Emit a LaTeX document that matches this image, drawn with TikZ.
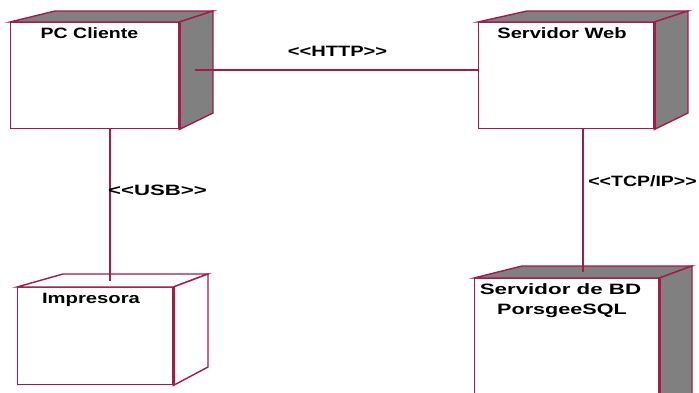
\documentclass[tikz,border=0pt]{standalone}
\usepackage{graphicx}
\usepackage{fontspec}
\setmainfont{Liberation Sans}
\usetikzlibrary{calc}
\definecolor{edgecol}{RGB}{165,25,75}
\definecolor{sidegray}{RGB}{128,128,128}
\newcommand\myxs[2]{\scalebox{#1}[1]{#2}}
\tikzset{
 frontface/.style={draw=edgecol, line width=1.4pt, fill=white, rectangle, inner sep=0pt, anchor=north west},
 graysurf/.style={draw=edgecol, line width=1.4pt, fill=sidegray, line join=miter},
 whitesurf/.style={draw=edgecol, line width=1.4pt, fill=white, line join=miter},
 thickedge/.style={draw=edgecol, line width=3pt},
 title/.style={font=\fontsize{15}{20}\selectfont\bfseries, inner sep=0pt, anchor=base},
 conn/.style={draw=edgecol, line width=1.3pt},
}
\begin{document}
\begin{tikzpicture}[x=1pt,y=-1pt]
\useasboundingbox (0,0) rectangle (699,392);
\clip (0,0) rectangle (699,392);

% PC Cliente
\node[frontface, minimum width=168pt, minimum height=106pt] (pc) at (10,22) {};
\draw[graysurf] (pc.north west) -- (55,11) -- (213,11) -- (pc.north east) -- cycle;
\draw[graysurf] (pc.north east) -- (213,11) -- (213,113) -- (pc.south east) -- cycle;
\draw[thickedge] (pc.north east) -- (pc.south east);
\node[title] (pct) at (89.5,38.3) {\myxs{1.3}{PC Cliente}};

% Servidor Web
\node[frontface, minimum width=175pt, minimum height=106pt] (web) at (478,22) {};
\draw[graysurf] (web.north west) -- (527,11) -- (688,11) -- (web.north east) -- cycle;
\draw[graysurf] (web.north east) -- (688,11) -- (688,113) -- (web.south east) -- cycle;
\draw[thickedge] (web.north east) -- (web.south east);
\node[title] (webt) at (562,38.3) {\myxs{1.34}{Servidor Web}};

% Impresora
\node[frontface, minimum width=155pt, minimum height=97pt] (imp) at (17,287) {};
\draw[whitesurf] (imp.north west) -- (63,274) -- (208,274) -- (imp.north east) -- cycle;
\draw[whitesurf] (imp.north east) -- (208,274) -- (208,367) -- (imp.south east) -- cycle;
\draw[thickedge] (imp.north east) -- (imp.south east);
\node[title] (impt) at (91,303) {\myxs{1.35}{Impresora}};

% Servidor de BD
\node[frontface, minimum width=184pt, minimum height=130pt] (bd) at (474,278) {};
\draw[graysurf] (bd.north west) -- (522,266) -- (692,266) -- (bd.north east) -- cycle;
\draw[graysurf] (bd.north east) -- (692,266) -- (692,396) -- (bd.south east) -- cycle;
\draw[thickedge] (bd.north east) -- (bd.south east);
\node[title] (bdt1) at (560.5,294) {\myxs{1.49}{Servidor de BD}};
\node[title] (bdt2) at (562,314) {\myxs{1.44}{PorsgeeSQL}};

% Connectors
\coordinate (httpA) at (195,70);
\draw[conn] (httpA) -- (web.west |- httpA);
\node[title] (httpl) at (337.5,56.7) {\myxs{1.34}{<{}<HTTP>{}>}};

\coordinate (usbB) at (110,281);
\draw[conn] (pc.south -| usbB) -- (usbB);
\node[title] (usbl) at (157.5,195.7) {\myxs{1.48}{<{}<USB>{}>}};

\coordinate (tcpB) at (583,272);
\draw[conn] (web.south -| tcpB) -- (tcpB);
\node[title] (tcpl) at (642.5,186.7) {\myxs{1.3}{<{}<TCP/IP>{}>}};
\end{tikzpicture}
\end{document}
